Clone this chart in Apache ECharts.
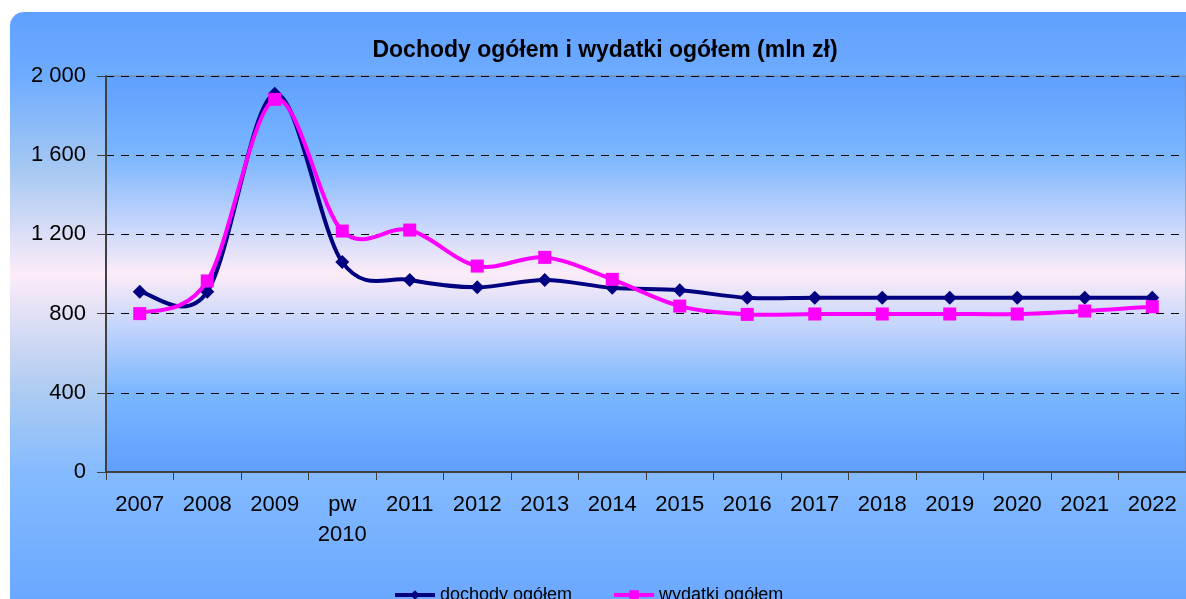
<!DOCTYPE html>
<html>
<head>
<meta charset="utf-8">
<title>Dochody i wydatki</title>
<script src="https://cdn.jsdelivr.net/npm/echarts@6/dist/echarts.min.js"></script>
<style>
  html, body { margin: 0; padding: 0; background: #ffffff; }
  #chart { width: 1186px; height: 599px; }
</style>
</head>
<body>
<div id="chart"></div>
<script>
// dane
var years = ['2007', '2008', '2009', 'pw\n2010', '2011', '2012', '2013', '2014', '2015', '2016', '2017', '2018', '2019', '2020', '2021', '2022']
var dochody = [910, 910, 1910, 1060, 970, 933, 970, 930, 918, 880, 880, 880, 880, 880, 880, 880]
var wydatki = [800, 965, 1882, 1217, 1222, 1040, 1084, 973, 838, 796, 798, 798, 798, 798, 813, 835]
var yTicks = [0, 400, 800, 1200, 1600, 2000]

var blue = '#5f9fff'
var myChart = echarts.init(document.getElementById('chart'))

// wygładzona linia jak w Excelu (Catmull-Rom -> Bezier)
function smoothPath (values, color) {
  return function (params, api) {
    var pts = values.map(function (v, i) {
      return api.coord([i, v])
    })
    var n = pts.length
    var path = 'M' + pts[0][0] + ' ' + pts[0][1]
    for (var i = 0; i < n - 1; i++) {
      var p0 = pts[Math.max(i - 1, 0)]
      var p1 = pts[i]
      var p2 = pts[i + 1]
      var p3 = pts[Math.min(i + 2, n - 1)]
      var c1x = p1[0] + (p2[0] - p0[0]) / 6
      var c1y = p1[1] + (p2[1] - p0[1]) / 6
      var c2x = p2[0] - (p3[0] - p1[0]) / 6
      var c2y = p2[1] - (p3[1] - p1[1]) / 6
      path += ' C' + c1x + ' ' + c1y + ' ' + c2x + ' ' + c2y + ' ' + p2[0] + ' ' + p2[1]
    }
    return {
      type: 'path',
      shape: { pathData: path },
      style: { fill: null, stroke: color, lineWidth: 4, lineJoin: 'round' }
    }
  }
}

var option = {
  animation: false,
  backgroundColor: '#ffffff',
  // tło panelu (zaokrąglone)
  graphic: [{
    type: 'rect',
    z: -10,
    shape: { x: 10, y: 12, width: 1220, height: 640, r: 14 },
    style: {
      fill: new echarts.graphic.LinearGradient(0, 0, 0, 1, [
        { offset: 0, color: blue },
        { offset: 0.1, color: '#6eacff' },
        { offset: 0.25, color: '#a8c9f2' },
        { offset: 0.41, color: '#fcecf8' },
        { offset: 0.58, color: '#b2cdf0' },
        { offset: 0.72, color: '#84bbff' },
        { offset: 1, color: blue }
      ])
    }
  }],
  title: {
    text: 'Dochody ogółem i wydatki ogółem (mln zł)',
    left: 600,
    textAlign: 'center',
    top: 34,
    textStyle: { fontFamily: 'Liberation Sans', fontSize: 23, fontWeight: 'bold', color: '#000' }
  },
  legend: {
    left: 388,
    top: 581,
    itemGap: 40,
    itemWidth: 40,
    itemHeight: 12,
    lineStyle: { width: 4, opacity: 1 },
    textStyle: { fontFamily: 'Liberation Sans', fontSize: 18, color: '#000' },
    data: ['dochody ogółem', 'wydatki ogółem']
  },
  grid: {
    left: 106,
    top: 76,
    right: 0,
    bottom: 127,
    show: true,
    borderWidth: 1,
    borderColor: '#7a8494',
    backgroundColor: new echarts.graphic.LinearGradient(0, 0, 0, 1, [
      { offset: 0, color: blue },
      { offset: 0.2, color: '#7ab6ff' },
      { offset: 0.5, color: '#fcecf8' },
      { offset: 0.8, color: '#7ab6ff' },
      { offset: 1, color: blue }
    ])
  },
  xAxis: {
    type: 'category',
    data: years,
    boundaryGap: true,
    axisLine: { lineStyle: { color: '#404040', width: 2 } },
    axisTick: { show: true, length: 8, lineStyle: { color: '#404040' } },
    axisLabel: {
      interval: 0,
      margin: 18,
      fontFamily: 'Liberation Sans',
      fontSize: 22,
      lineHeight: 30,
      color: '#000'
    }
  },
  yAxis: {
    type: 'value',
    min: 0,
    max: 2000,
    interval: 400,
    axisLine: { show: true, lineStyle: { color: '#404040', width: 2 } },
    axisTick: { show: true, length: 9, lineStyle: { color: '#404040' } },
    axisLabel: {
      margin: 20,
      fontFamily: 'Liberation Sans',
      fontSize: 22,
      color: '#000',
      formatter: function (v) {
        return yTicks.indexOf(v) >= 0 ? String(v).replace(/\B(?=(\d{3})+(?!\d))/g, ' ') : ''
      }
    },
    splitLine: { show: true, lineStyle: { color: '#000', type: [8, 7], width: 1 } }
  },
  series: [
    {
      type: 'custom',
      renderItem: smoothPath(dochody, '#000080'),
      data: [0],
      silent: true,
      z: 2
    },
    {
      name: 'dochody ogółem',
      type: 'line',
      data: dochody,
      symbol: 'diamond',
      symbolSize: 14,
      color: '#000080',
      lineStyle: { width: 4, color: '#000080', opacity: 0 },
      itemStyle: { color: '#000080' },
      z: 3
    },
    {
      type: 'custom',
      renderItem: smoothPath(wydatki, '#ff00ff'),
      data: [0],
      silent: true,
      z: 4
    },
    {
      name: 'wydatki ogółem',
      type: 'line',
      data: wydatki,
      symbol: 'rect',
      symbolSize: 13,
      color: '#ff00ff',
      lineStyle: { width: 4, color: '#ff00ff', opacity: 0 },
      itemStyle: { color: '#ff00ff' },
      z: 5
    }
  ]
}
myChart.setOption(option)
</script>
</body>
</html>
